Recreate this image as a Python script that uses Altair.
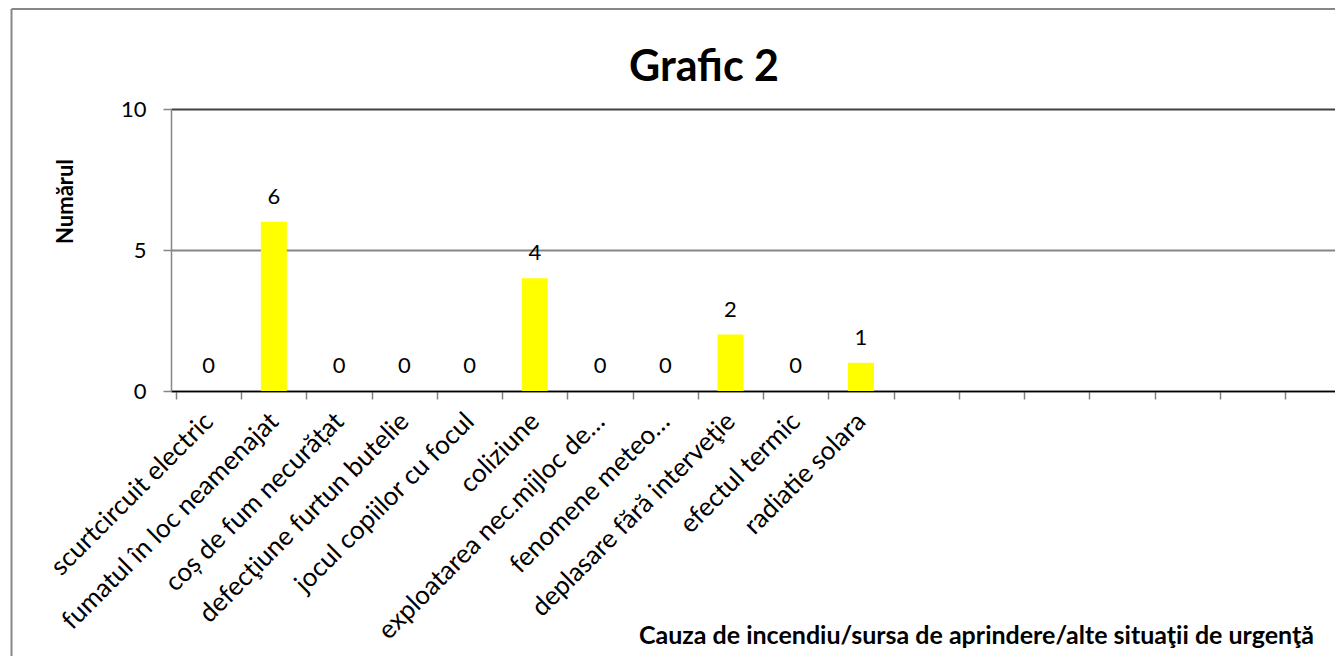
import json
import altair as alt
import pandas as pd

categories = [
    "scurtcircuit electric",
    "fumatul în loc neamenajat",
    "coș de fum necurățat",
    "defecţiune furtun butelie",
    "jocul copiilor cu focul",
    "coliziune",
    "exploatarea nec.mijloc de…",
    "fenomene meteo…",
    "deplasare fără interveţie",
    "efectul termic",
    "radiatie solara",
]
values = [0, 6, 0, 0, 0, 4, 0, 0, 2, 0, 1]
slot_ticks = list(range(0, 18))       # category boundaries visible in the window
y_ticks = [0, 5, 10]

df = pd.DataFrame({
    "cat": categories,
    "val": values,
    "pos": [i + 0.5 for i in range(len(categories))],
})

FONT = "Lato"
W, H = 1164, 282
PAD = {"left": 163, "top": 101, "right": 0, "bottom": 265}

x_scale = alt.Scale(domain=[0, 17.69], nice=False, zero=False)
y_scale = alt.Scale(domain=[0, 10], nice=False)

label_expr = "[" + ",".join(json.dumps(c, ensure_ascii=False) for c in categories) + "][floor(datum.value)]"

bars = alt.Chart(df).mark_bar(color="#FFFF00", size=26).encode(
    x=alt.X("pos:Q", scale=x_scale, axis=alt.Axis(
        orient="bottom",
        values=slot_ticks, labels=False, ticks=True, tickSize=8, tickColor="#808080",
        tickWidth=1.5, domainColor="#000000", domainWidth=1.5, grid=False,
        title="Cauza de incendiu/sursa de aprindere/alte situaţii de urgenţă",
        titleFont=FONT, titleFontSize=25, titleFontWeight="bold", titleColor="#000000",
        titleX=805, titleY=244, titleAlign="center", titleBaseline="middle")),
    y=alt.Y("val:Q", scale=y_scale, axis=alt.Axis(
        values=y_ticks, grid=True,
        gridColor=alt.condition("datum.value == 10", alt.value("#404040"), alt.value("#868686")),
        gridWidth=2, domainColor="#868686", domainWidth=1.5, tickColor="#868686",
        tickWidth=1.5, tickSize=8, labelFont=FONT, labelFontSize=22, labelPadding=17,
        labelColor="#000000",
        title="Numărul", titleFont=FONT, titleFontSize=22, titleFontWeight="bold",
        titleColor="#000000", titleAngle=-90, titleX=-106, titleY=92,
        titleAlign="center", titleBaseline="middle")),
)

labels = alt.Chart(df).mark_text(dy=-25, fontSize=22, font=FONT, baseline="middle", color="#000000").encode(
    x=alt.X("pos:Q", scale=x_scale, axis=alt.Axis(
        orient="bottom",
        values=[i + 0.5 for i in range(len(categories))], labelExpr=label_expr,
        ticks=False, domain=False, grid=False, title=None, labelAngle=-45,
        labelAlign="right", labelBaseline="middle", labelFont=FONT, labelFontSize=26,
        labelPadding=26, labelOverlap=False, labelFlush=False, labelBound=False,
        labelColor="#000000", labelLimit=0)),
    y=alt.Y("val:Q", scale=y_scale),
    text="val:Q",
)

frame_df = pd.DataFrame({"b": [0]})
left_border = alt.Chart(frame_df).mark_rule(color="#878787", strokeWidth=2).encode(
    x=alt.value(-159.5), y=alt.value(-100), y2=alt.value(H + 400))
top_border = alt.Chart(frame_df).mark_rule(color="#878787", strokeWidth=2).encode(
    x=alt.value(-159.5), x2=alt.value(W + 50), y=alt.value(-100))

chart = alt.layer(bars, labels, left_border, top_border).resolve_axis(x="independent").properties(
    width=W, height=H, padding=PAD,
    autosize=alt.AutoSizeParams(type="none"),
    title=alt.TitleParams("Grafic 2", font=FONT, fontSize=43, fontWeight="bold",
                          color="#000000", anchor="middle", dx=-49, dy=120,
                          baseline="alphabetic"),
).configure_view(stroke=None)

chart.save("out.html", embed_options={"renderer": "svg", "actions": False})
